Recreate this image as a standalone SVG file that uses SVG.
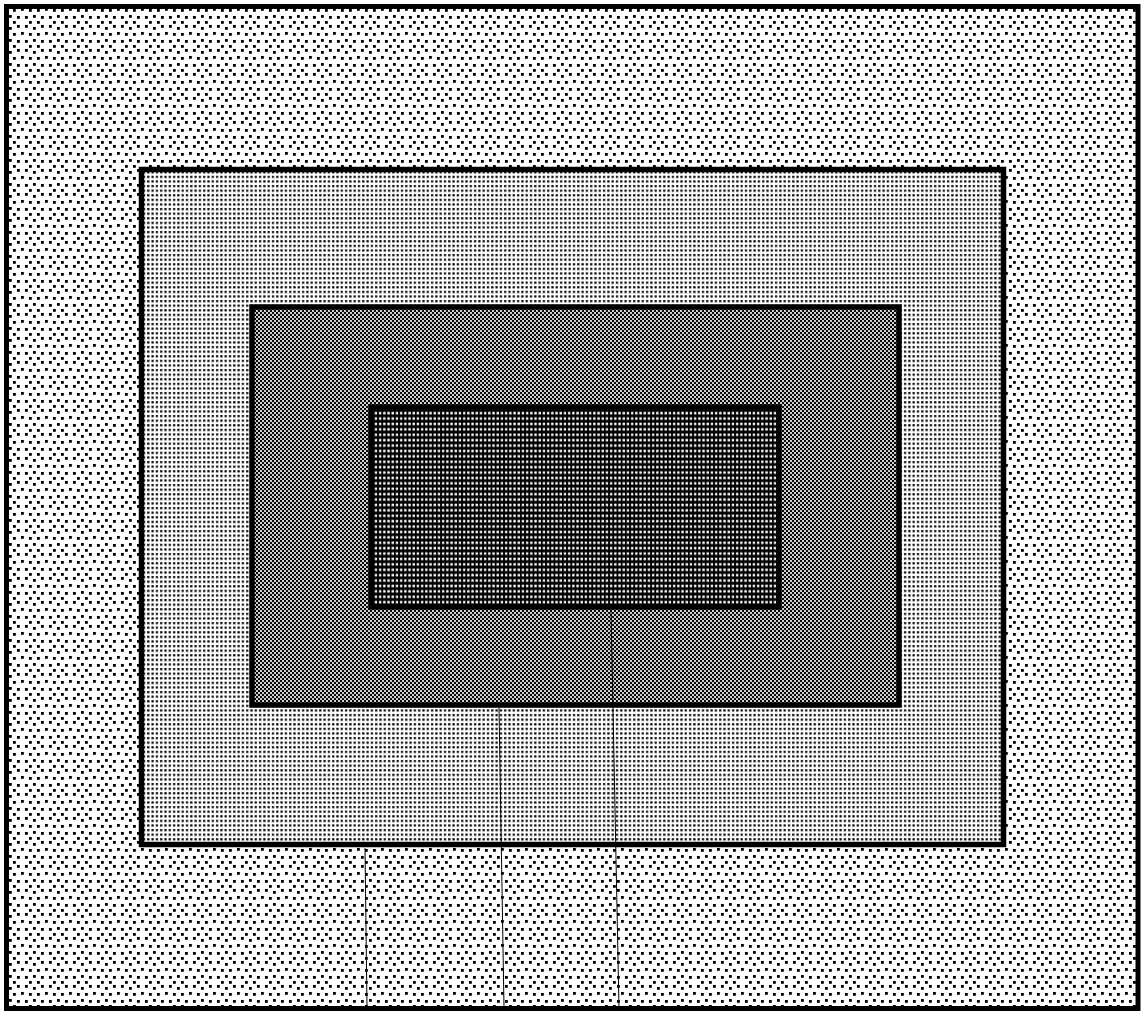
<svg xmlns="http://www.w3.org/2000/svg" width="1143" height="1012" viewBox="0 0 1143 1012">
<defs>
<pattern id="stipple" x="0" y="0" width="24" height="24" patternUnits="userSpaceOnUse">
<rect width="24" height="24" fill="#fff"/>
<g fill="#000">
<rect x="1" y="1" width="2.8" height="2.8"/>
<rect x="9" y="3" width="2.8" height="2.8"/>
<rect x="17" y="1" width="2.8" height="2.8"/>
<rect x="5" y="9" width="2.8" height="2.8"/>
<rect x="13" y="9" width="2.8" height="2.8"/>
<rect x="21" y="8" width="2.8" height="2.8"/>
<rect x="1" y="16" width="2.8" height="2.8"/>
<rect x="9" y="15" width="2.8" height="2.8"/>
<rect x="17" y="16" width="2.8" height="2.8"/>
<rect x="13" y="21" width="2.8" height="2.8"/>
<rect x="5" y="21" width="2.8" height="2.8"/>
</g>
</pattern>
<pattern id="dotgrid" x="0" y="0" width="4.3" height="4.6" patternUnits="userSpaceOnUse">
<rect width="4.3" height="4.6" fill="#fff"/>
<rect x="1" y="1" width="2.2" height="2.2" fill="#000"/>
</pattern>
<pattern id="checker" x="0" y="0" width="4" height="4" patternUnits="userSpaceOnUse">
<rect width="4" height="4" fill="#d0d0d0"/>
<rect x="0" y="0" width="2" height="2" fill="#0a0a0a"/>
<rect x="2" y="2" width="2" height="2" fill="#0a0a0a"/>
</pattern>
<pattern id="darkdots" x="0" y="0" width="4.2" height="5.4" patternUnits="userSpaceOnUse">
<rect width="4.2" height="5.4" fill="#000"/>
<rect x="1" y="1.5" width="2.3" height="2.5" fill="#fff"/>
</pattern>
<style>
.box{stroke:#000;stroke-width:5.5}
.lead{stroke:#000;stroke-width:1;fill:none}
</style>
</defs>
<g id="outer">
<rect x="6.5" y="6.5" width="1131.5" height="1002" fill="url(#stipple)" stroke="#000" stroke-width="5"/>
</g>
<g id="layer2">
<rect class="box" x="141.5" y="169.5" width="862" height="675" fill="url(#dotgrid)"/>
</g>
<g id="layer3">
<rect class="box" x="252" y="307" width="647" height="398" fill="url(#checker)"/>
</g>
<g id="core">
<rect class="box" x="371" y="407" width="408" height="200" fill="url(#darkdots)"/>
</g>
<g id="connectors">
<line class="lead" x1="365" y1="848" x2="367" y2="1008"/>
<line class="lead" x1="499" y1="708" x2="504" y2="1008"/>
<line class="lead" x1="611" y1="610" x2="619" y2="1008"/>
</g>
</svg>
